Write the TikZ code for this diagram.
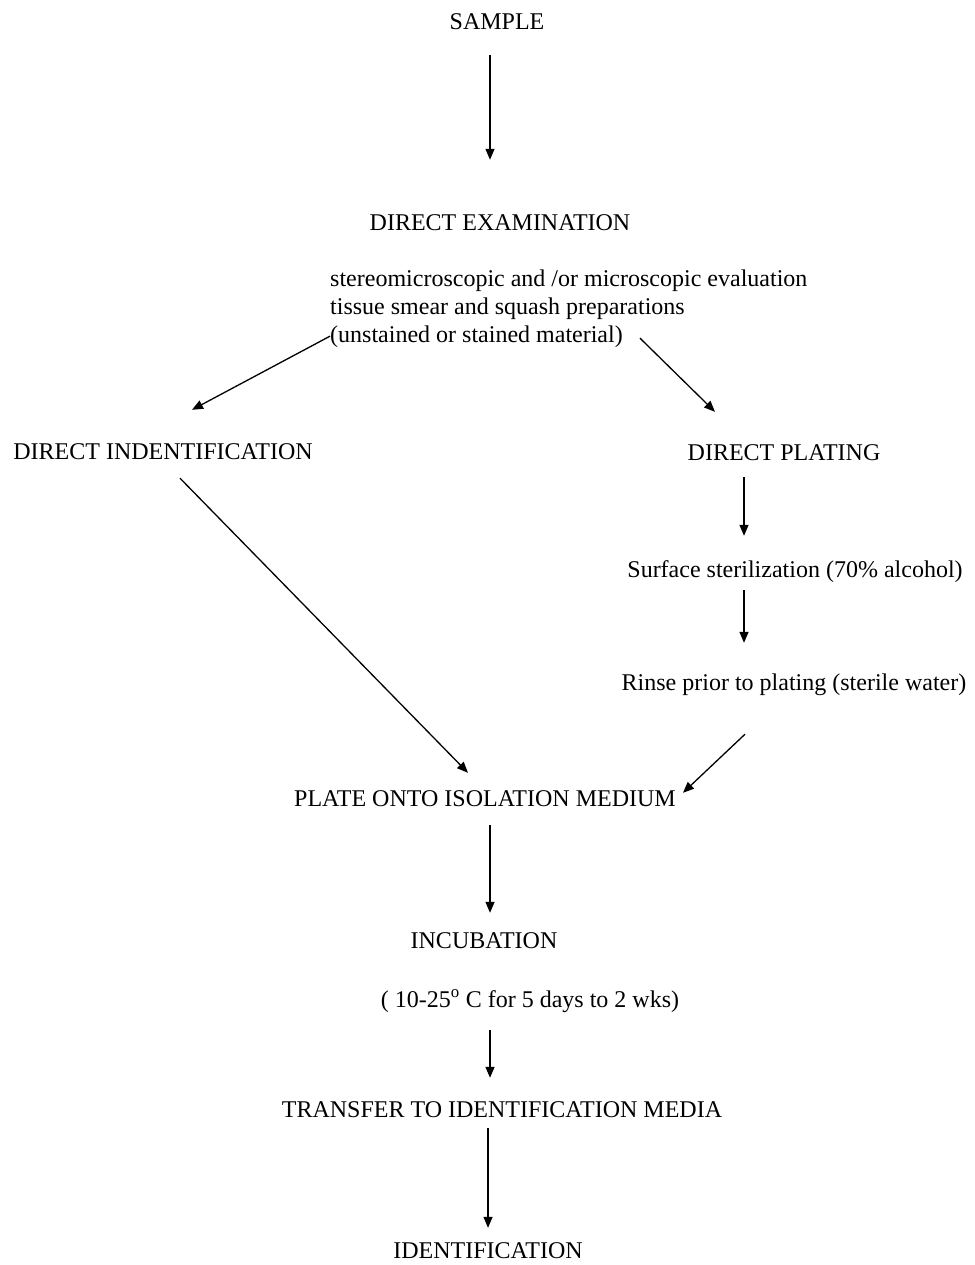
\documentclass[tikz,border=0pt]{standalone}
\usepackage{fontspec}
\setmainfont{Liberation Serif}
\usetikzlibrary{arrows.meta,calc}

\begin{document}
\begin{tikzpicture}[
    x=1pt, y=-1pt,
    txt/.style={inner sep=0pt, anchor=base, font=\fontsize{24}{28}\selectfont, text height=16pt, text depth=5pt},
    blk/.style={inner sep=0pt, anchor=north west, align=left, font=\fontsize{24}{28}\selectfont},
    arrow/.style={-{Triangle[length=11pt, width=9pt]}, line width=1.3pt}
  ]
    \useasboundingbox (0,0) rectangle (974,1265);
    \node[txt] (sample) at (497,30) {SAMPLE};
    \node[txt] (exam) at (500,231) {DIRECT EXAMINATION};
    \node[blk] (eval) at (330,270) {stereomicroscopic and /or microscopic evaluation\\
      tissue smear and squash preparations\\
      (unstained or stained material)};
    \node[txt] (dind) at (163,459) {DIRECT INDENTIFICATION};
    \node[txt] (dplate) at (784,460) {DIRECT PLATING};
    \node[txt] (surf) at (795,577) {Surface sterilization (70\% alcohol)};
    \node[txt] (rinse) at (794,690) {Rinse prior to plating (sterile water)};
    \node[txt] (plate) at (485,806) {PLATE ONTO ISOLATION MEDIUM};
    \node[txt] (incub) at (484,948) {INCUBATION};
    \node[txt] (temp) at (530,1007) {( 10-25\textsuperscript{o} C for 5 days to 2 wks)};
    \node[txt] (transfer) at (502,1117) {TRANSFER TO IDENTIFICATION MEDIA};
    \node[txt] (ident) at (488,1258) {IDENTIFICATION};

    \draw[arrow, shorten <=20pt, shorten >=55pt] ([xshift=-7pt]sample.south) -- ([xshift=-10pt]exam.north);
    \draw[arrow] ($(eval.south west)+(0,-12)$) -- ($(dind.north)+(29,-33)$);
    \draw[arrow] ($(eval.south west)+(310,-10)$) -- ($(dplate.north)+(-69,-32)$);
    \draw[arrow, shorten <=12pt, shorten >=25pt] ([xshift=-40pt]dplate.south) -- ([xshift=-51pt]surf.north);
    \draw[arrow, shorten <=8pt, shorten >=31pt] ([xshift=-51pt]surf.south) -- ([xshift=-50pt]rinse.north);
    \draw[arrow] ($(dind.south)+(17,14)$) -- ($(plate.north)+(-17,-17)$);
    \draw[arrow] ($(rinse.south)+(-49,39)$) -- ($(plate.north east)+(7,3)$);
    \draw[arrow, shorten <=14pt, shorten >=19pt] ([xshift=5pt]plate.south) -- ([xshift=6pt]incub.north);
    \draw[arrow, shorten <=18pt, shorten >=23pt] ([xshift=-40pt]temp.south) -- ([xshift=-12pt]transfer.north);
    \draw[arrow, shorten <=6pt, shorten >=14pt] ([xshift=-14pt]transfer.south) -- (ident.north);
  \end{tikzpicture}
\end{document}
